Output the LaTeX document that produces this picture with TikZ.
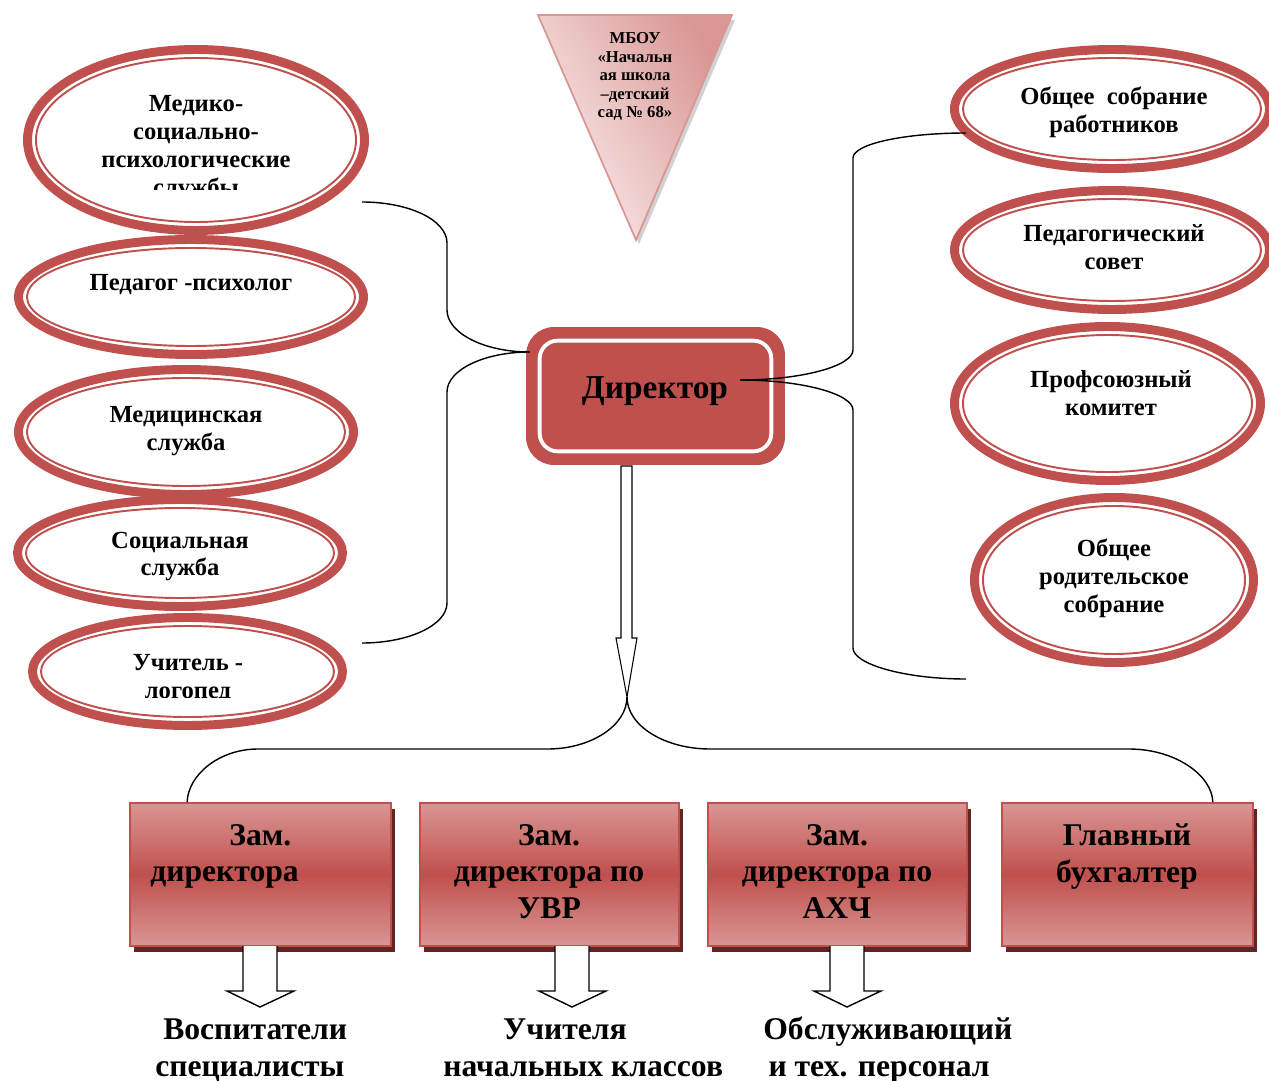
\documentclass[tikz,border=0pt]{standalone}
\usepackage{fontspec}
\setmainfont{Liberation Serif}
\usetikzlibrary{calc}

\definecolor{rot}{HTML}{C0504D}
\definecolor{hellrot}{HTML}{D99694}
\definecolor{dunkelrot}{HTML}{632523}
\definecolor{rosa}{HTML}{FAEDEC}

\tikzset{
  ring/.style={draw=rot,line width=5.1pt,fill=white},
  innenring/.style={draw=rot,line width=1.1pt},
  ringtext/.style={font=\fontsize{14}{15.9}\selectfont\bfseries,align=center,inner sep=0pt},
  kasten/.style={draw=rot,line width=1pt,top color=hellrot,bottom color=hellrot,middle color=rot,minimum height=2.86cm,inner sep=0pt},
  kastentext/.style={font=\fontsize{18}{20.7}\selectfont\bfseries,inner sep=0pt},
  untertext/.style={font=\fontsize{18}{21}\selectfont\bfseries,align=left,inner sep=0pt,anchor=west},
  linie/.style={line width=0.8pt},
  hohl/.style={draw,fill=white,line width=0.8pt}
}

\begin{document}
\begin{tikzpicture}[x=0.02cm,y=-0.02cm]
\useasboundingbox (0,0) rectangle (1269,1081);
%Dreieck
\fill[black!18] (541,20) -- (735,20) -- (639,244) -- cycle;
\shade[top color=hellrot,bottom color=rosa,shading angle=-60] (538,15) -- (732,15) -- (636,240) -- cycle;
\draw[hellrot,line width=1pt] (538,15) -- (732,15) -- (636,240) -- cycle;
\node[font=\fontsize{9.5}{10.5}\selectfont\bfseries,align=center,inner sep=0pt] (mbou) at (635,76.5) {МБОУ\\«Начальн\\ая школа\\–детский\\сад №~68»};
%Ellipsen links
\draw[ring] (196,140) ellipse [x radius=168.5, y radius=90.5];
\draw[innenring] (196,140) ellipse [x radius=160, y radius=82];
\draw[ring] (191,297) ellipse [x radius=172.5, y radius=57.5];
\draw[innenring] (191,297) ellipse [x radius=164, y radius=49];
\draw[ring] (186,432) ellipse [x radius=167.5, y radius=62.5];
\draw[innenring] (186,432) ellipse [x radius=159, y radius=54];
\draw[ring] (180,553) ellipse [x radius=162.5, y radius=53.5];
\draw[innenring] (180,553) ellipse [x radius=154, y radius=45];
\draw[ring] (187.5,671.5) ellipse [x radius=155, y radius=54];
\draw[innenring] (187.5,671.5) ellipse [x radius=146.5, y radius=45.5];
%Ellipsen rechts
\draw[ring] (1112,109) ellipse [x radius=157.5, y radius=59.5];
\draw[innenring] (1112,109) ellipse [x radius=149, y radius=51];
\draw[ring] (1112,250) ellipse [x radius=157.5, y radius=59.5];
\draw[innenring] (1112,250) ellipse [x radius=149, y radius=51];
\draw[ring] (1107.5,403.5) ellipse [x radius=153, y radius=77];
\draw[innenring] (1107.5,403.5) ellipse [x radius=144.5, y radius=68.5];
\draw[ring] (1114,580) ellipse [x radius=139.5, y radius=82.5];
\draw[innenring] (1114,580) ellipse [x radius=131, y radius=74];
%Beschriftung Ellipsen
\begin{scope}
\clip (30,60) rectangle (360,190);
\node[ringtext] (medpsy) at (196,148) {Медико-\\социально-\\психологические\\службы};
\end{scope}
\node[ringtext] (psych) at (191,285) {Педагог -психолог};
\node[ringtext] (med) at (186,431.5) {Медицинская\\служба};
\node[ringtext] (soz) at (180,556.5) {Социальная\\служба};
\begin{scope}
\clip (30,630) rectangle (350,697);
\node[ringtext] (logo) at (188,678.5) {Учитель -\\логопед};
\end{scope}
\node[ringtext] (sobr) at (1114,112.5) {Общее\ \ собрание\\работников};
\node[ringtext] (pedsov) at (1114,247.5) {Педагогический\\совет};
\node[ringtext] (prof) at (1111,393) {Профсоюзный\\комитет};
\node[ringtext] (roditel) at (1114,578.5) {Общее\\родительское\\собрание};
%Direktor
\node[fill=rot,rounded corners=0.56cm,minimum width=5.18cm,minimum height=2.76cm] (dir) at (655.5,396) {};
\draw[white,line width=2.2pt,rounded corners=0.36cm] ($(dir.north west)+(14,14)$) rectangle ($(dir.south east)+(-14,-14)$);
\node[font=\fontsize{19}{22}\selectfont\bfseries,inner sep=0pt] (dirtext) at (655,391) {Директор};
%Linien links
\coordinate (lo) at (362,202);
\coordinate (lu) at (362,643);
\coordinate (ltip) at ($(dir.west)+(4,-44)$);
\draw[linie] (lo) .. controls (409,202) and (447,220) .. (447,243) -- (447,310) .. controls (447,333) and (484,352) .. (ltip);
\draw[linie] (ltip) .. controls (484,352) and (447,370) .. (447,392) -- (447,603) .. controls (447,625) and (409,643) .. (lu);
%Linien rechts
\coordinate (rtip) at ($(dir.east)+(-45,-16)$);
\coordinate (ro) at (966,133);
\coordinate (ru) at (966,679);
\draw[linie] (rtip) .. controls (802,380) and (853,366) .. (853,350) -- (853,158) .. controls (853,144) and (904,133) .. (ro);
\draw[linie] (rtip) .. controls (802,380) and (853,394) .. (853,410) -- (853,648) .. controls (853,664) and (904,679) .. (ru);
%Pfeil nach unten
\coordinate (gabel) at (627,697);
\draw[hohl,line width=0.6pt] (621,466) -- (621,638) -- (616,638) -- (gabel) -- (637,638) -- (632,638) -- (632,466) -- cycle;
%Schatten
\fill[dunkelrot] (134,809) rectangle (395,952);
\fill[dunkelrot] (424,809) rectangle (683,952);
\fill[dunkelrot] (712,809) rectangle (971,952);
\fill[dunkelrot] (1006,809) rectangle (1257,952);
%Kaesten
\node[kasten,minimum width=5.22cm] (zam) at (260.5,874.5) {};
\node[kasten,minimum width=5.18cm] (uvr) at (549.5,874.5) {};
\node[kasten,minimum width=5.18cm] (ahch) at (837.5,874.5) {};
\node[kasten,minimum width=5.02cm] (bux) at (1127.5,874.5) {};
\node[kastentext,align=left,anchor=west] (zamtext) at (150,856.5) {\hspace*{45pt}Зам.\\директора};
\node[kastentext,align=center] (uvrtext) at (549,871.5) {Зам.\\директора по\\УВР};
\node[kastentext,align=center] (ahchtext) at (837,871.5) {Зам.\\директора по\\АХЧ};
\node[kastentext,align=center] (buxtext) at (1127,856.5) {Главный\\бухгалтер};
%Linien unten
\draw[linie] (gabel) .. controls (627,726) and (590,749) .. (548,749) -- (258,749) .. controls (219,749) and (188,775) .. ($(zam.north west)+(58,0)$);
\draw[linie] (gabel) .. controls (627,726) and (665,749) .. (710,749) -- (1129,749) .. controls (1175,749) and (1212,775) .. ($(bux.north east)+(-41,0)$);
%kleine Pfeile
\draw[hohl] (243,946) -- (243,991) -- (227,991) -- (260,1007) -- (294,991) -- (277,991) -- (277,946);
\draw[hohl] (555,946) -- (555,991) -- (539,991) -- (572,1007) -- (606,991) -- (589,991) -- (589,946);
\draw[hohl] (830,946) -- (830,991) -- (814,991) -- (847,1007) -- (881,991) -- (864,991) -- (864,946);
%Beschriftung unten
\node[untertext] (vosp) at (155,1050.5) {\hspace*{4.5pt}Воспитатели\\специалисты};
\node[untertext] (uchit) at (443,1047.5) {\hspace*{34pt}Учителя\\начальных классов};
\node[untertext] (obsl) at (763,1050) {Обслуживающий\\\hspace*{3pt}и тех. персонал};
\end{tikzpicture}
\end{document}
